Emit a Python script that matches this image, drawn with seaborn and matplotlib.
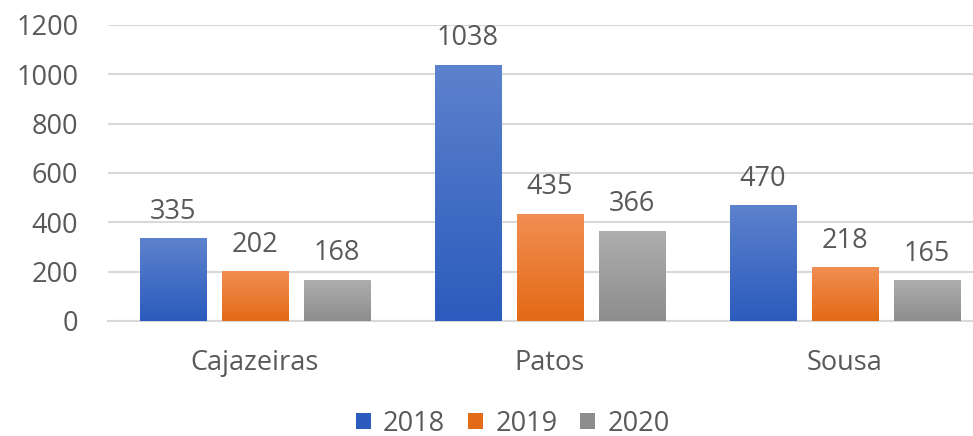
import numpy as np
import pandas as pd
import matplotlib
matplotlib.use('Agg')
import matplotlib.pyplot as plt
from matplotlib.colors import LinearSegmentedColormap
from matplotlib.patches import Patch
import seaborn as sns

# Data
cidades = ['Cajazeiras', 'Patos', 'Sousa']
anos = ['2018', '2019', '2020']
v2018 = [335, 1038, 470]
v2019 = [202, 435, 218]
v2020 = [168, 366, 165]

# colours: (top, bottom) of the gradient
cores = {'2018': ('#5d82cd', '#2b5bbd'),
         '2019': ('#f18e52', '#e36a16'),
         '2020': ('#aeaeae', '#8d8d8d')}

data = pd.DataFrame({'Cidade': cidades * 3,
                     'Ano': sum([[a] * 3 for a in anos], []),
                     'Valor': v2018 + v2019 + v2020})

sns.set_style('white')
plt.rcParams['font.family'] = ['Open Sans', 'DejaVu Sans']
texto = '#595959'
fs = 19.5

fig = plt.figure(figsize=(9.73, 4.36), dpi=100)
ax = fig.add_axes([0.1105, 0.2638, 0.8895, 0.6789])

sns.barplot(data=data, x='Cidade', y='Valor', hue='Ano', order=cidades,
            hue_order=anos, palette={a: c[1] for a, c in cores.items()},
            width=0.834, gap=0.19, legend=False, ax=ax, zorder=3)

# gradient fill clipped to each bar
for i, p in enumerate(ax.patches):
    ano = anos[i // 3]
    top, bot = cores[ano]
    cmap = LinearSegmentedColormap.from_list(ano, [bot, top])
    p.set_edgecolor('#c8c8c8')
    p.set_linewidth(0.6)
    x, w, h = p.get_x(), p.get_width(), p.get_height()
    grad = np.linspace(0, 1, 256).reshape(-1, 1)
    im = ax.imshow(grad, cmap=cmap, origin='lower', aspect='auto',
                   extent=[x, x + w, 0, h], zorder=3.5)
    im.set_clip_path(p)
    ax.annotate(f'{int(h)}', (x + w / 2, h), xytext=(0, 14),
                textcoords='offset points', ha='center', va='baseline',
                fontsize=fs, color=texto)

ax.set_xlim(-0.5, 2.434)
ax.set_ylim(0, 1200)
ax.set_yticks(range(0, 1201, 200))

ax.grid(axis='y', color='#d9d9d9', linewidth=1.5, zorder=0)
sns.despine(ax=ax, left=True, right=True, top=True, bottom=False)
ax.spines['bottom'].set_color('#d9d9d9')
ax.spines['bottom'].set_linewidth(1.5)
ax.tick_params(axis='both', length=0, labelsize=fs, labelcolor=texto)
ax.tick_params(axis='y', pad=21)
ax.tick_params(axis='x', pad=20)
ax.set_xlabel('')
ax.set_ylabel('')

handles = [Patch(facecolor=cores[a][1], edgecolor='none', label=a) for a in anos]
leg = fig.legend(handles=handles, loc='lower center', bbox_to_anchor=(0.527, -0.06),
                 ncol=3, frameon=False, fontsize=fs, handlelength=0.55,
                 handleheight=0.55, handletextpad=0.45, columnspacing=0.85)
for t in leg.get_texts():
    t.set_color(texto)

fig.savefig('out.png', dpi=100)
